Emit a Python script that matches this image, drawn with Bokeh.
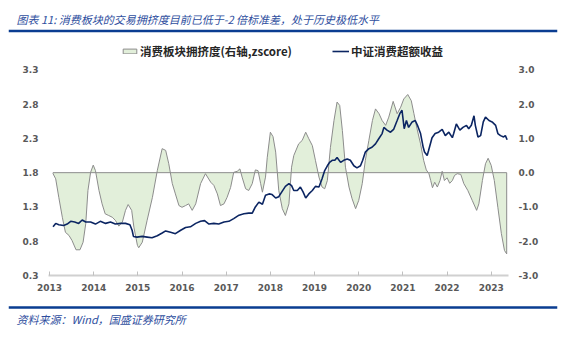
import numpy as np
from bokeh.plotting import figure
from bokeh.layouts import column
from bokeh.models import (Range1d, LinearAxis, FixedTicker, Legend, LegendItem, Label,
                          Span, NumeralTickFormatter)
from bokeh.embed import file_html
from bokeh.resources import INLINE

title_text = "图表 11:  消费板块的交易拥挤度目前已低于-2 倍标准差，处于历史极低水平"
source_text = "资料来源：Wind，国盛证券研究所"
crowd_label = "消费板块拥挤度(右轴,zscore)"
excess_label = "中证消费超额收益"

year_ticks = list(range(2013, 2024))
left_ticks = [0.3, 0.8, 1.3, 1.8, 2.3, 2.8, 3.3]
right_ticks = [-3.0, -2.0, -1.0, 0.0, 1.0, 2.0, 3.0]

# 消费板块拥挤度 (zscore, right axis)
crowd_t = [2013.08, 2013.14, 2013.21, 2013.29, 2013.36, 2013.44, 2013.51, 2013.60, 2013.69, 2013.76,
           2013.82, 2013.87, 2013.93, 2013.99, 2014.04, 2014.12, 2014.19, 2014.26, 2014.34, 2014.42,
           2014.49, 2014.57, 2014.65, 2014.72, 2014.78, 2014.86, 2014.91, 2014.99, 2015.02, 2015.10,
           2015.21, 2015.33, 2015.44, 2015.55, 2015.63, 2015.70, 2015.78, 2015.85, 2015.93, 2016.00,
           2016.08, 2016.15, 2016.23, 2016.31, 2016.42, 2016.53, 2016.65, 2016.72, 2016.80, 2016.87,
           2016.95, 2017.02, 2017.10, 2017.17, 2017.25, 2017.31, 2017.36, 2017.44, 2017.51, 2017.59,
           2017.66, 2017.72, 2017.78, 2017.82, 2017.89, 2017.93, 2018.00, 2018.06, 2018.12, 2018.19,
           2018.27, 2018.34, 2018.42, 2018.48, 2018.53, 2018.64, 2018.72, 2018.80, 2018.87, 2018.95,
           2019.02, 2019.10, 2019.17, 2019.23, 2019.29, 2019.36, 2019.44, 2019.51, 2019.57, 2019.63,
           2019.70, 2019.78, 2019.85, 2019.93, 2020.00, 2020.08, 2020.15, 2020.23, 2020.31, 2020.38,
           2020.46, 2020.53, 2020.61, 2020.68, 2020.78, 2020.87, 2020.95, 2021.02, 2021.11, 2021.19,
           2021.25, 2021.32, 2021.40, 2021.47, 2021.53, 2021.59, 2021.63, 2021.67, 2021.72, 2021.78,
           2021.84, 2021.89, 2021.94, 2022.00, 2022.06, 2022.12, 2022.17, 2022.23, 2022.31, 2022.38,
           2022.47, 2022.57, 2022.67, 2022.72, 2022.80, 2022.87, 2022.93, 2023.00, 2023.07, 2023.15,
           2023.23, 2023.30, 2023.35]
crowd_v = [-0.03, -0.18, -0.72, -1.30, -1.74, -1.83, -1.98, -2.25, -2.25, -2.03,
           -1.49, -0.52, 0.01, 0.22, 0.06, -0.52, -0.91, -1.20, -1.25, -1.30,
           -1.39, -1.56, -1.44, -1.10, -0.93, -1.10, -1.59, -2.12, -2.19, -2.03,
           -1.39, -0.72, 0.06, 0.70, 0.65, 0.26, -0.32, -0.62, -0.96, -1.01,
           -0.96, -0.91, -1.10, -0.91, -0.32, -0.03, -0.28, -0.37, -0.62, -0.96,
           -0.91, -0.72, -0.43, 0.01, 0.04, 0.11, -0.13, -0.47, -0.52, -0.32,
           0.08, 0.06, -0.32, -0.57, -0.13, 0.45, 1.18, 1.05, 0.60, -0.52,
           -1.05, -1.25, -0.91, 0.16, 0.50, 0.84, 0.94, 1.18, 0.99, 0.79,
           0.36, -0.13, -0.42, -0.47, -0.23, 0.74, 1.52, 2.06, 1.96, 1.23,
           0.16, -0.42, -0.76, -1.05, -0.81, -0.32, 0.36, 0.94, 1.52, 1.86,
           1.72, 1.52, 1.38, 1.62, 2.08, 1.72, 1.91, 2.15, 2.28, 2.10,
           1.72, 1.28, 0.84, 0.36, 0.08, -0.03, -0.23, -0.44, -0.28, -0.42,
           -0.23, 0.04, -0.23, -0.15, -0.31, -0.23, -0.08, -0.03, -0.05, -0.32,
           -0.52, -0.81, -1.10, -0.91, -0.23, 0.26, 0.42, 0.21, -0.23, -1.01,
           -1.78, -2.27, -2.37]

# 中证消费超额收益 (left axis)
excess_t = [2013.08, 2013.14, 2013.21, 2013.32, 2013.40, 2013.48, 2013.57, 2013.66, 2013.74, 2013.82,
            2013.93, 2014.04, 2014.15, 2014.27, 2014.38, 2014.49, 2014.61, 2014.72, 2014.82, 2014.87,
            2014.90, 2014.98, 2015.10, 2015.21, 2015.32, 2015.44, 2015.55, 2015.63, 2015.74, 2015.85,
            2015.97, 2016.08, 2016.19, 2016.31, 2016.42, 2016.51, 2016.61, 2016.72, 2016.83, 2016.95,
            2017.06, 2017.17, 2017.29, 2017.40, 2017.51, 2017.59, 2017.66, 2017.74, 2017.82, 2017.89,
            2017.97, 2018.04, 2018.12, 2018.19, 2018.27, 2018.34, 2018.42, 2018.48, 2018.53, 2018.61,
            2018.68, 2018.74, 2018.80, 2018.87, 2018.95, 2019.02, 2019.10, 2019.17, 2019.23, 2019.29,
            2019.34, 2019.40, 2019.46, 2019.51, 2019.59, 2019.66, 2019.74, 2019.81, 2019.89, 2019.96,
            2020.04, 2020.09, 2020.15, 2020.23, 2020.30, 2020.38, 2020.45, 2020.53, 2020.57, 2020.64,
            2020.72, 2020.79, 2020.87, 2020.93, 2020.98, 2021.03, 2021.08, 2021.13, 2021.21, 2021.28,
            2021.33, 2021.40, 2021.46, 2021.49, 2021.55, 2021.58, 2021.66, 2021.73, 2021.81, 2021.89,
            2021.96, 2022.04, 2022.12, 2022.15, 2022.21, 2022.29, 2022.36, 2022.44, 2022.49, 2022.55,
            2022.61, 2022.64, 2022.70, 2022.76, 2022.82, 2022.87, 2022.95, 2023.02, 2023.10, 2023.15,
            2023.21, 2023.28, 2023.32, 2023.36]
excess_v = [1.01, 1.06, 1.04, 1.03, 1.05, 1.09, 1.08, 1.06, 1.11, 1.08,
            1.08, 1.05, 1.09, 1.06, 1.08, 1.05, 1.06, 1.06, 1.04, 0.96,
            0.87, 0.86, 0.87, 0.86, 0.85, 0.88, 0.92, 0.95, 0.93, 0.91,
            0.96, 1.00, 1.01, 1.06, 1.09, 1.10, 1.05, 1.06, 1.05, 1.08,
            1.09, 1.13, 1.18, 1.20, 1.21, 1.21, 1.30, 1.37, 1.34, 1.47,
            1.49, 1.48, 1.43, 1.45, 1.53, 1.60, 1.64, 1.61, 1.54, 1.54,
            1.59, 1.52, 1.43, 1.49, 1.54, 1.60, 1.59, 1.71, 1.83, 1.90,
            1.95, 1.98, 1.98, 2.02, 1.95, 1.98, 2.00, 1.98, 1.90, 1.87,
            1.90, 1.98, 2.10, 2.15, 2.17, 2.22, 2.29, 2.37, 2.46, 2.42,
            2.39, 2.43, 2.56, 2.66, 2.71, 2.44, 2.56, 2.46, 2.54, 2.56,
            2.49, 2.37, 2.17, 2.10, 2.05, 2.12, 2.31, 2.37, 2.39, 2.43,
            2.34, 2.39, 2.31, 2.37, 2.51, 2.42, 2.46, 2.49, 2.44, 2.49,
            2.63, 2.49, 2.32, 2.34, 2.54, 2.61, 2.56, 2.54, 2.49, 2.37,
            2.34, 2.32, 2.34, 2.28]

FONT_CJK = "Noto Sans CJK SC"
LABEL_COLOR = "#595959"
BLUE = "#0A3D91"
TITLE_BLUE = "#2E4E9E"


def deco_figure(h):
    f = figure(width=574, height=h, output_backend="svg", toolbar_location=None,
               x_axis_type=None, y_axis_type=None,
               x_range=Range1d(0, 549), y_range=Range1d(0, h),
               min_border_left=8, min_border_right=17, min_border_top=0, min_border_bottom=0,
               background_fill_color="white", border_fill_color="white", frame_align=False)
    f.outline_line_color = None
    f.grid.visible = False
    return f


# header: title + blue rule
header = deco_figure(35)
header.add_layout(Label(x=8, y=17, x_units="screen", y_units="screen", text=title_text,
                        text_font=FONT_CJK, text_font_style="italic", text_font_size="11px",
                        text_color=TITLE_BLUE, text_baseline="middle"))
header.add_layout(Span(location=4.5, dimension="width", line_color=BLUE, line_width=2.5))

# main chart: frame extends above the 3.3 tick so the legend sits inside it
p = figure(width=574, height=265, output_backend="svg", toolbar_location=None,
           x_range=Range1d(2012.977, 2023.391), y_range=Range1d(0.3, 3.771),
           min_border_left=48, min_border_right=66, min_border_top=2, min_border_bottom=25,
           background_fill_color="white", border_fill_color="white", frame_align=False)
p.outline_line_color = None
p.grid.visible = False
p.extra_y_ranges = {"right": Range1d(-3.0, 3.943)}

area_x = np.concatenate([[crowd_t[0]], crowd_t, [crowd_t[-1]]])
area_y = np.concatenate([[0.0], crowd_v, [0.0]])
area_r = p.patch(area_x, area_y, y_range_name="right", fill_color="#E2EFDA",
                 line_color="#8C8C8C", line_width=1)
line_r = p.line(excess_t, excess_v, line_color="#0B2562", line_width=1.6)

xa = p.xaxis[0]
xa.ticker = FixedTicker(ticks=year_ticks)
xa.formatter = NumeralTickFormatter(format="0")
xa.axis_line_color = "#D0D0D0"
xa.axis_line_width = 2
xa.major_tick_in = 4
xa.major_tick_out = 0
xa.major_tick_line_color = "#C0C0C0"
xa.minor_tick_line_color = None
xa.major_label_standoff = 8

ya = p.yaxis[0]
ya.ticker = FixedTicker(ticks=left_ticks)
ya.formatter = NumeralTickFormatter(format="0.0")

yr = LinearAxis(y_range_name="right", ticker=FixedTicker(ticks=right_ticks),
                formatter=NumeralTickFormatter(format="0.0"))
p.add_layout(yr, "right")

for ax in (ya, yr):
    ax.axis_line_color = None
    ax.major_tick_line_color = None
    ax.minor_tick_line_color = None
    ax.major_label_standoff = 4

for ax in (xa, ya, yr):
    ax.major_label_text_font = "DejaVu Sans"
    ax.major_label_text_font_style = "bold"
    ax.major_label_text_font_size = "9px"
    ax.major_label_text_color = LABEL_COLOR

legend = Legend(items=[LegendItem(label=crowd_label, renderers=[area_r]),
                       LegendItem(label=excess_label, renderers=[line_r])],
                orientation="horizontal", location=(73, 216),
                glyph_width=17, glyph_height=6, label_height=14, label_standoff=2,
                spacing=40, padding=0, margin=0,
                border_line_color=None, background_fill_alpha=0,
                label_text_font=FONT_CJK, label_text_font_style="bold",
                label_text_font_size="11.5px", label_text_color="#262626")
p.add_layout(legend, "center")

# footer: blue rule + source
footer = deco_figure(39)
footer.add_layout(Span(location=32, dimension="width", line_color=BLUE, line_width=2.5))
footer.add_layout(Label(x=8, y=21, x_units="screen", y_units="screen", text=source_text,
                        text_font=FONT_CJK, text_font_style="italic", text_font_size="11px",
                        text_color=TITLE_BLUE, text_baseline="middle"))

layout = column(header, p, footer, spacing=0)
open("out.html", "w").write(file_html(layout, INLINE))
